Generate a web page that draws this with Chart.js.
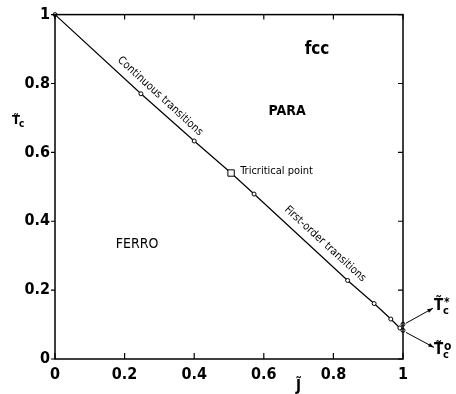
<!DOCTYPE html>
<html>
<head>
<meta charset="utf-8">
<script src="https://cdn.jsdelivr.net/npm/chart.js@4"></script>
<style>
  html, body { margin: 0; padding: 0; background: #fff; }
  canvas { display: block; }
</style>
</head>
<body>
<canvas id="chart" width="456" height="394"></canvas>
<script>
// phase boundary, fcc lattice
const jValues = [0, 0.247, 0.40, 0.506, 0.572, 0.841, 0.917, 0.965, 0.991, 1.0];
const tcValues = [1.0, 0.77, 0.633, 0.54, 0.479, 0.228, 0.161, 0.116, 0.09, 0.083];
const markerStyles = ['circle', 'circle', 'circle', 'rect', 'circle', 'circle', 'circle', 'circle', 'circle', 'circle'];
const tcStarJ = [1.0];
const tcStarValues = [0.101];
const tickValues = [0, 0.2, 0.4, 0.6, 0.8, 1];

const FONT = "'DejaVu Sans Condensed', 'DejaVu Sans', sans-serif";
Chart.defaults.font.family = FONT;
Chart.defaults.color = '#000';

const fmt = v => String(Number(v.toFixed(1)));

// text placed in data coordinates
const notes = [
  { text: 'fcc', x: 0.753, y: 0.899, size: 17, weight: 'bold', rot: 0, align: 'center' },
  { text: 'PARA', x: 0.667, y: 0.72, size: 14, weight: 'bold', rot: 0, align: 'center' },
  { text: 'FERRO', x: 0.236, y: 0.332, size: 14, weight: 'normal', rot: 0, align: 'center' },
  { text: 'Tricritical point', x: 0.532, y: 0.545, size: 11, weight: 'normal', rot: 0, align: 'left' },
  { text: 'Continuous transitions', x: 0.302, y: 0.763, size: 11, weight: 'normal', rot: 42.5, align: 'center' },
  { text: 'First-order transitions', x: 0.776, y: 0.334, size: 11, weight: 'normal', rot: 42.5, align: 'center' }
];

const frame = {
  id: 'frame',
  afterDraw(chart) {
    const { ctx, chartArea: a, scales: { x, y } } = chart;
    ctx.save();
    ctx.strokeStyle = '#000';
    ctx.lineWidth = 1.5;
    ctx.strokeRect(a.left, a.top, a.right - a.left, a.bottom - a.top);
    ctx.lineWidth = 1.2;
    ctx.beginPath();
    tickValues.forEach(v => {
      const px = x.getPixelForValue(v);
      const py = y.getPixelForValue(v);
      ctx.moveTo(px, a.bottom); ctx.lineTo(px, a.bottom - 6);
      ctx.moveTo(px, a.top); ctx.lineTo(px, a.top + 5);
      ctx.moveTo(a.left, py); ctx.lineTo(a.left - 4, py);
      ctx.moveTo(a.right, py); ctx.lineTo(a.right - 5, py);
    });
    ctx.stroke();

    ctx.fillStyle = '#000';
    ctx.textBaseline = 'middle';
    notes.forEach(n => {
      ctx.save();
      ctx.translate(x.getPixelForValue(n.x), y.getPixelForValue(n.y));
      ctx.rotate(n.rot * Math.PI / 180);
      ctx.font = `${n.weight} ${n.size}px ${FONT}`;
      ctx.textAlign = n.align;
      ctx.fillText(n.text, 0, 0);
      ctx.restore();
    });

    // T_c labels with arrows
    const x1 = x.getPixelForValue(1);
    const pStar = y.getPixelForValue(tcStarValues[0]);
    const pZero = y.getPixelForValue(tcValues[tcValues.length - 1]);
    const arrow = (x0, y0, x2, y2) => {
      ctx.beginPath();
      ctx.lineWidth = 1;
      ctx.moveTo(x0, y0); ctx.lineTo(x2, y2); ctx.stroke();
      const ang = Math.atan2(y2 - y0, x2 - x0);
      ctx.beginPath();
      ctx.moveTo(x2, y2);
      ctx.lineTo(x2 - 6 * Math.cos(ang - 0.35), y2 - 6 * Math.sin(ang - 0.35));
      ctx.lineTo(x2 - 6 * Math.cos(ang + 0.35), y2 - 6 * Math.sin(ang + 0.35));
      ctx.closePath();
      ctx.fill();
    };
    arrow(x1 + 3, pStar - 1, x1 + 30, pStar - 16);
    arrow(x1 + 3, pZero + 2, x1 + 31, pZero + 17);

    const tLabel = (px, py, sup) => {
      ctx.textAlign = 'left';
      ctx.textBaseline = 'alphabetic';
      ctx.font = `bold 15px ${FONT}`;
      ctx.fillText('T\u0303', px, py);
      ctx.font = `bold 11px ${FONT}`;
      ctx.fillText('c', px + 9, py + 4);
      ctx.font = `bold 12px ${FONT}`;
      ctx.fillText(sup, px + 10, py - 4);
    };
    tLabel(x1 + 31, pStar - 14, '*');
    tLabel(x1 + 31, pZero + 24, 'o');

    // axis titles
    ctx.font = `bold 13px ${FONT}`;
    ctx.fillText('T\u0303', 12, 124);
    ctx.font = `bold 10px ${FONT}`;
    ctx.fillText('c', 19, 127);
    ctx.font = `bold 15px ${FONT}`;
    ctx.textAlign = 'center';
    ctx.fillText('J\u0303', x.getPixelForValue(0.7), 391);
    ctx.restore();
  }
};

new Chart(document.getElementById('chart'), {
  type: 'scatter',
  data: {
    datasets: [
      {
        data: jValues.map((j, i) => ({ x: j, y: tcValues[i] })),
        showLine: true,
        borderColor: '#000',
        borderWidth: 1.2,
        backgroundColor: '#fff',
        pointBorderColor: '#000',
        pointBorderWidth: 1,
        pointStyle: markerStyles,
        pointRadius: markerStyles.map(s => s === 'rect' ? 4.5 : 2),
        clip: false
      },
      {
        data: tcStarJ.map((j, i) => ({ x: j, y: tcStarValues[i] })),
        backgroundColor: '#fff',
        pointBorderColor: '#000',
        pointBorderWidth: 1,
        pointRadius: 2,
        clip: false
      }
    ]
  },
  options: {
    responsive: false,
    animation: false,
    layout: { padding: { top: 13, right: 53, left: 0, bottom: 0 } },
    plugins: { legend: { display: false }, tooltip: { enabled: false } },
    scales: {
      x: {
        type: 'linear', min: 0, max: 1,
        afterBuildTicks: s => { s.ticks = tickValues.map(v => ({ value: v })); },
        afterFit: s => { s.height = 35; },
        grid: { display: false, drawTicks: false },
        border: { display: false },
        ticks: { padding: 6, font: { size: 16, weight: 'bold' }, callback: fmt, maxRotation: 0 }
      },
      y: {
        type: 'linear', min: 0, max: 1,
        afterBuildTicks: s => { s.ticks = tickValues.map(v => ({ value: v })); },
        afterFit: s => { s.width = 55; },
        grid: { display: false, drawTicks: false },
        border: { display: false },
        ticks: { padding: 5, font: { size: 16, weight: 'bold' }, callback: fmt }
      }
    }
  },
  plugins: [frame]
});
</script>
</body>
</html>
